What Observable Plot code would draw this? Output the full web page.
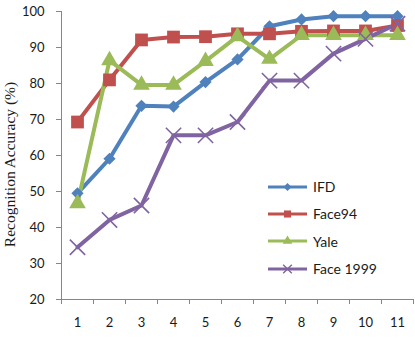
<!DOCTYPE html>
<html>
<head>
<meta charset="utf-8">
<script src="https://cdn.jsdelivr.net/npm/d3@7"></script>
<script src="https://cdn.jsdelivr.net/npm/@observablehq/plot@0.6"></script>
<style>
  html, body { margin: 0; padding: 0; background: #fff; }
  #wrap { position: relative; width: 415px; height: 356px; overflow: hidden; }
  #legend { position: absolute; left: 268px; top: 173px; font-family: Lato, "Open Sans", sans-serif; font-size: 14px; color: #1a1a1a; }
  #legend .row { display: flex; align-items: center; height: 27.3px; }
  #legend svg { margin-right: 5px; }
</style>
</head>
<body>
<div id="wrap"></div>
<script>
// Training-sample count on x, accuracy per database on y
const categories = [1, 2, 3, 4, 5, 6, 7, 8, 9, 10, 11];
const yTicks = [20, 30, 40, 50, 60, 70, 80, 90, 100];

const ifd      = [49.5, 59.1, 73.8, 73.6, 80.4, 86.7, 95.9, 97.8, 98.7, 98.7, 98.7];
const face94   = [69.3, 81.0, 92.1, 92.9, 93.0, 93.8, 93.8, 94.5, 94.6, 94.6, 96.1];
const yale     = [46.7, 86.4, 79.6, 79.6, 86.2, 93.1, 86.8, 93.4, 93.4, 93.4, 93.4];
const face1999 = [34.5, 42.1, 46.1, 65.6, 65.6, 69.3, 80.8, 80.8, 88.3, 92.4, 96.6];

const series = [
  {name: "IFD",       values: ifd,      color: "#4F81BD", symbol: "diamond2", r: 5.5},
  {name: "Face94",    values: face94,   color: "#C0504D", symbol: "square",   r: 7.2},
  {name: "Yale",      values: yale,     color: "#9BBB59", symbol: "triangle", r: 6.2},
  {name: "Face 1999", values: face1999, color: "#8064A2", symbol: "times",    r: 7}
];

const rows = series.flatMap(s => s.values.map((v, i) => ({series: s.name, x: categories[i], y: v})));
// category band edges for the x tick marks
const edges = [...categories.map(c => c - 0.5), categories[categories.length - 1] + 0.5];
const axisGrey = "#868686";
const ink = "#1a1a1a";

const chart = Plot.plot({
  width: 415,
  height: 356,
  marginLeft: 61,
  marginRight: 2,
  marginTop: 11,
  marginBottom: 57,
  style: {fontFamily: "Lato, 'Open Sans', sans-serif", fontSize: "13px", background: "#fff"},
  x: {domain: [edges[0], edges[edges.length - 1]]},
  y: {domain: [20, 100]},
  marks: [
    Plot.axisY({ticks: yTicks, tickSize: 5, tickPadding: 12, label: null, stroke: axisGrey, fill: ink, fontSize: 13}),
    Plot.axisX({ticks: edges, tickSize: 5, tickFormat: () => "", label: null, stroke: axisGrey}),
    Plot.axisX({ticks: categories, tickSize: 0, tickPadding: 18, label: null, fill: ink, fontSize: 13}),
    Plot.ruleX([edges[0]], {stroke: axisGrey}),
    Plot.ruleY([20], {stroke: axisGrey}),
    Plot.text(["Recognition Accuracy (%)"], {
      frameAnchor: "left", textAnchor: "middle", dx: -51.5, dy: 9, rotate: -90, text: d => d,
      fontFamily: "'Liberation Serif', 'DejaVu Serif', serif", fontSize: 15.5, fill: ink
    }),
    ...series.map(s => Plot.line(rows.filter(d => d.series === s.name), {
      x: "x", y: "y", stroke: s.color, strokeWidth: 4, strokeLinejoin: "round"
    })),
    ...series.map(s => Plot.dot(rows.filter(d => d.series === s.name), {
      x: "x", y: "y", symbol: () => s.symbol, r: s.r,
      fill: s.symbol === "times" ? "none" : s.color,
      stroke: s.symbol === "times" ? s.color : "none",
      strokeWidth: 1.6
    }))
  ]
});

const wrap = document.getElementById("wrap");
wrap.appendChild(chart);

// legend inside the plot area
const legend = document.createElement("div");
legend.id = "legend";
for (const s of series) {
  const row = document.createElement("div");
  row.className = "row";
  const sw = d3.create("svg").attr("width", 40).attr("height", 12);
  sw.append("line").attr("x1", 0).attr("x2", 39).attr("y1", 6).attr("y2", 6)
    .attr("stroke", s.color).attr("stroke-width", 3);
  const sym = {diamond2: d3.symbolDiamond2, square: d3.symbolSquare, triangle: d3.symbolTriangle, times: d3.symbolTimes}[s.symbol];
  const sizes = {diamond2: 40, square: 50, triangle: 40, times: 50};
  sw.append("path").attr("transform", "translate(19.5,6)")
    .attr("d", d3.symbol(sym, sizes[s.symbol])())
    .attr("fill", s.symbol === "times" ? "none" : s.color)
    .attr("stroke", s.symbol === "times" ? s.color : "none")
    .attr("stroke-width", 1.4);
  row.appendChild(sw.node());
  const label = document.createElement("span");
  label.textContent = s.name;
  row.appendChild(label);
  legend.appendChild(row);
}
wrap.appendChild(legend);
</script>
</body>
</html>
